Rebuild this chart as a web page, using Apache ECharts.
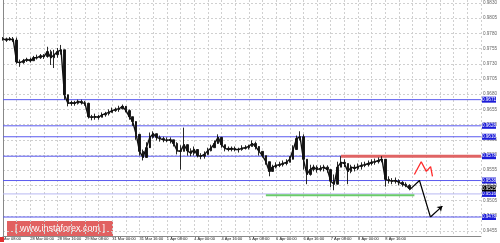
<!DOCTYPE html>
<html><head><meta charset="utf-8">
<script src="https://cdn.jsdelivr.net/npm/echarts@6/dist/echarts.min.js"></script>
<style>html,body{margin:0;padding:0;background:#fff}#c{width:500px;height:243px}</style>
</head><body><div id="c"></div>
<script>
// bar index (hour bars, every 2nd bar sampled)
const barIndex = [0,2,4,6,8,10,12,14,16,18,20,22,24,26,28,30,32,34,36,38,40,42,44,46,48,50,52,54,56,58,60,62,64,66,68,70,72,74,76,78,80,82,84,86,88,90,92,94,96,98,100,102,104,106,108,110,112,114,116,118,120,122,124,126,128,130,132,134,136,138,140,142,144,146,148,150,152,154,156,158,160,162,164,166,168,170,172,174,176,178,180,182,184,186,188,190,192,194,196,198,200,202,204,206,208,210,212,214,216,218,220,222,224,226,228,230,232,234,236,238];
const closes = [0.9771,0.9769,0.9771,0.9769,0.9733,0.9732,0.9735,0.9737,0.9735,0.9740,0.9740,0.9743,0.9742,0.9750,0.9740,0.9745,0.9750,0.9753,0.9679,0.9665,0.9666,0.9665,0.9668,0.9666,0.9665,0.9643,0.9642,0.9643,0.9642,0.9646,0.9648,0.9650,0.9653,0.9655,0.9656,0.9660,0.9653,0.9643,0.9635,0.9614,0.9586,0.9576,0.9592,0.9609,0.9615,0.9609,0.9607,0.9605,0.9604,0.9605,0.9599,0.9587,0.9586,0.9597,0.9587,0.9583,0.9589,0.9579,0.9578,0.9581,0.9587,0.9592,0.9599,0.9609,0.9597,0.9591,0.9589,0.9591,0.9589,0.9589,0.9591,0.9592,0.9594,0.9599,0.9594,0.9586,0.9579,0.9569,0.9553,0.9560,0.9563,0.9564,0.9566,0.9568,0.9573,0.9589,0.9607,0.9610,0.9573,0.9548,0.9556,0.9560,0.9556,0.9558,0.9560,0.9556,0.9537,0.9532,0.9560,0.9568,0.9566,0.9553,0.9560,0.9558,0.9561,0.9563,0.9564,0.9566,0.9568,0.9569,0.9571,0.9573,0.9540,0.9538,0.9537,0.9538,0.9535,0.9532,0.9530,0.9525];
const highs = [0.9774,0.9773,0.9774,0.9774,0.9773,0.9737,0.9738,0.9740,0.9740,0.9743,0.9745,0.9746,0.9746,0.9758,0.9753,0.9753,0.9756,0.9761,0.9737,0.9671,0.9669,0.9669,0.9671,0.9671,0.9669,0.9666,0.9646,0.9648,0.9646,0.9650,0.9651,0.9655,0.9658,0.9658,0.9661,0.9663,0.9658,0.9655,0.9643,0.9630,0.9605,0.9589,0.9601,0.9617,0.9619,0.9614,0.9612,0.9610,0.9609,0.9609,0.9605,0.9601,0.9596,0.9625,0.9594,0.9591,0.9594,0.9589,0.9583,0.9586,0.9592,0.9597,0.9604,0.9614,0.9607,0.9597,0.9594,0.9594,0.9594,0.9592,0.9596,0.9596,0.9597,0.9604,0.9602,0.9592,0.9586,0.9579,0.9569,0.9564,0.9568,0.9569,0.9571,0.9573,0.9578,0.9596,0.9612,0.9619,0.9614,0.9573,0.9564,0.9564,0.9563,0.9563,0.9564,0.9563,0.9553,0.9548,0.9569,0.9578,0.9573,0.9566,0.9564,0.9564,0.9566,0.9568,0.9569,0.9571,0.9573,0.9574,0.9576,0.9578,0.9569,0.9545,0.9542,0.9543,0.9540,0.9537,0.9535,0.9532];
const lows = [0.9768,0.9766,0.9768,0.9766,0.9730,0.9725,0.9730,0.9733,0.9732,0.9735,0.9737,0.9738,0.9738,0.9740,0.9728,0.9723,0.9740,0.9745,0.9671,0.9660,0.9661,0.9661,0.9663,0.9663,0.9661,0.9640,0.9637,0.9638,0.9638,0.9642,0.9643,0.9645,0.9650,0.9651,0.9651,0.9655,0.9650,0.9638,0.9628,0.9605,0.9579,0.9571,0.9578,0.9597,0.9607,0.9604,0.9602,0.9601,0.9601,0.9599,0.9594,0.9581,0.9556,0.9586,0.9579,0.9578,0.9579,0.9576,0.9573,0.9574,0.9583,0.9586,0.9592,0.9602,0.9592,0.9586,0.9586,0.9586,0.9586,0.9584,0.9587,0.9589,0.9589,0.9594,0.9589,0.9579,0.9576,0.9564,0.9545,0.9553,0.9558,0.9560,0.9561,0.9563,0.9568,0.9579,0.9597,0.9604,0.9556,0.9532,0.9546,0.9553,0.9551,0.9553,0.9553,0.9551,0.9527,0.9522,0.9546,0.9560,0.9560,0.9532,0.9550,0.9553,0.9555,0.9556,0.9560,0.9561,0.9563,0.9564,0.9566,0.9568,0.9528,0.9533,0.9532,0.9533,0.9530,0.9528,0.9527,0.9522];

const xLabels = ['Mar 08:00','28 Mar 00:00','28 Mar 16:00','29 Mar 08:00','31 Mar 00:00','31 Mar 16:00','1 Apr 08:00','4 Apr 00:00','4 Apr 16:00','5 Apr 08:00','6 Apr 00:00','6 Apr 16:00','7 Apr 08:00','8 Apr 00:00','8 Apr 16:00'];
const yTicks = [0.9830,0.9805,0.9780,0.9755,0.9730,0.9705,0.9680,0.9655,0.9630,0.9605,0.9580,0.9555,0.9530,0.9505,0.9480,0.9455];

const blueLevels = [0.9671,0.9628,0.9610,0.9578,0.9538,0.9478];
const lightLevels = [0.9516];
const lastPrice = [0.9525];
const resistance = [[198,0.9578],[280,0.9578]];
const support = [[154,0.9514],[241,0.9514]];
const redZigzag = [[241,0.9548],[245,0.9569],[248,0.9553],[250.5,0.9561],[251.6,0.9545]];
const blackPath = [[238.3,0.9523],[244,0.9538],[250.4,0.9478]];
const blackArrowEnd = [[250.4,0.9478],[257.4,0.9496]];
const xMin = 0, xMax = 280;

const F = 'Liberation Sans';
const candle = barIndex.map((x,i)=>[x, i ? closes[i-1] : closes[i], closes[i], lows[i], highs[i]]);
const endLbl = (bg)=>({show:true,distance:1,formatter:p=>p.value[1].toFixed(4),color:'#fff',backgroundColor:bg,fontSize:4.6,fontFamily:F,padding:[1,0,0,0],lineHeight:5});
const levelSeries = (v,color,bg,z)=>({type:'line',data:[[xMin,v],[xMax,v]],showSymbol:false,silent:true,
  lineStyle:{color:color,width:1,opacity:color?1:0},endLabel:endLbl(bg),z:z});

const chart = echarts.init(document.getElementById('c'),null,{renderer:'canvas'});
chart.setOption({
  animation:false,
  backgroundColor:'#fff',
  grid:{left:0,right:16,top:0,bottom:7,containLabel:false},
  xAxis:[{
    type:'value',min:xMin,max:xMax,interval:16,position:'bottom',
    axisLine:{show:true,lineStyle:{color:'#888',width:1}},
    axisTick:{show:false},
    splitLine:{show:false},
    axisLabel:{show:true,align:'left',margin:1,fontSize:4,fontFamily:F,color:'#111',
      formatter:v=>xLabels[v/16]||''}
  },{
    type:'value',min:xMin,max:xMax,interval:8,position:'top',
    axisLine:{show:false},axisTick:{show:false},axisLabel:{show:false},
    splitLine:{show:true,lineStyle:{color:'#d0d0d0',type:[2,2],width:1}}
  }],
  yAxis:{
    type:'value',position:'right',min:0.94468,max:0.98349,
    axisLine:{show:true,lineStyle:{color:'#888',width:1}},
    axisTick:{show:false,customValues:yTicks},
    axisLabel:{show:true,customValues:yTicks,margin:2,fontSize:4.6,fontFamily:F,color:'#666',formatter:v=>v.toFixed(4)},
    splitLine:{show:true,lineStyle:{color:'#d0d0d0',type:[2,2],width:1}}
  },
  graphic:[
    {type:'rect',left:0,top:237,shape:{width:4,height:5},style:{fill:'#e03030'},z:100},
    {type:'group',left:7,top:221,z:100,children:[
      {type:'rect',shape:{x:0,y:0,width:106,height:15},style:{fill:'rgba(222,80,80,0.9)'}},
      {type:'text',x:53,y:7.5,style:{text:'[ www.instaforex.com ]',fill:'#fff',font:'9px "Liberation Sans"',align:'center',verticalAlign:'middle'}}
    ]}
  ],
  series:[
    ...blueLevels.map(v=>levelSeries(v,'#5a5aef','#1c1cd8',2)),
    ...lightLevels.map(v=>levelSeries(v,'#b8b8f2','#1c1cd8',2)),
    ...lastPrice.map(v=>levelSeries(v,null,'#000',7)),
    {type:'line',data:resistance,showSymbol:false,lineStyle:{color:'#e06464',width:3},z:3},
    {type:'line',data:support,showSymbol:false,lineStyle:{color:'#6acb6a',width:2},z:3},
    {type:'line',data:closes.map((c,i)=>[barIndex[i],c]),showSymbol:false,lineStyle:{color:'#111',width:1.4},z:4},
    {type:'candlestick',data:candle,dimensions:['x','open','close','low','high'],encode:{x:'x',y:['open','close','low','high']},
      barWidth:2,itemStyle:{color:'#111',color0:'#111',borderColor:'#111',borderColor0:'#111',borderWidth:0.9},z:5},
    {type:'line',data:redZigzag,showSymbol:false,lineStyle:{color:'#ff2a2a',width:1.3},z:6},
    {type:'line',data:blackPath,showSymbol:false,lineStyle:{color:'#000',width:1.2},z:6},
    {type:'lines',coordinateSystem:'cartesian2d',data:[{coords:blackArrowEnd}],symbol:['none','arrow'],symbolSize:5,
      lineStyle:{color:'#000',width:1.2,opacity:1},z:6}
  ]
});
</script></body></html>
